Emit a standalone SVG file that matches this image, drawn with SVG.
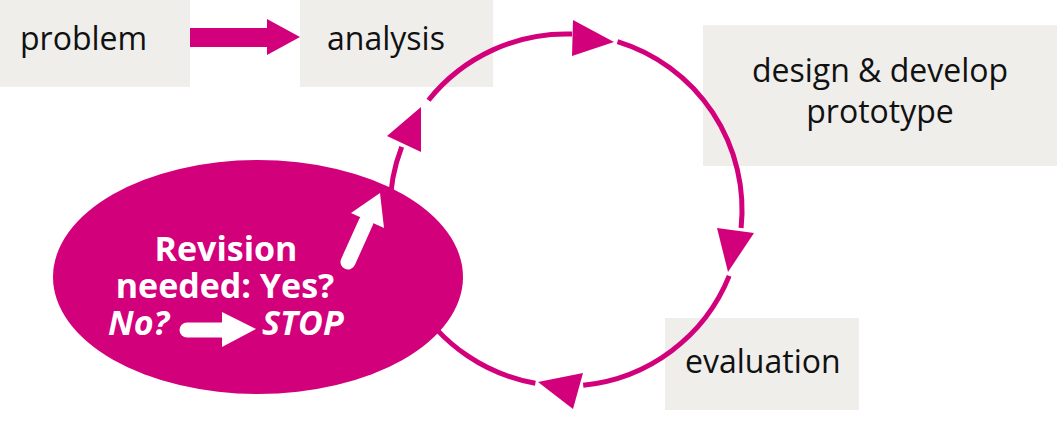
<svg xmlns="http://www.w3.org/2000/svg" width="1057" height="426" viewBox="0 0 1057 426">
  <style>
    .box { fill: #efeeeb; }
    .lbl { font-family: "Open Sans", "Noto Sans", sans-serif; font-size: 32px; fill: #111; }
    .ring { fill: none; stroke: #d3007b; stroke-width: 5; }
    .head { fill: #d3007b; }
    .wt { font-family: "Open Sans", "Noto Sans", sans-serif; font-size: 34px; font-weight: bold; fill: #fff; }
    .wi { font-style: italic; }
    .wshaft { stroke: #fff; stroke-width: 15; stroke-linecap: round; fill: none; }
  </style>
  <rect width="1057" height="426" fill="#fff"/>

  <g id="node-problem">
    <rect class="box" x="0" y="0" width="190" height="87"/>
    <text class="lbl" x="20" y="50">problem</text>
  </g>
  <g id="node-analysis">
    <rect class="box" x="300" y="0" width="193" height="87"/>
    <text class="lbl" x="327" y="50">analysis</text>
  </g>
  <g id="node-design">
    <rect class="box" x="703" y="25" width="354" height="141"/>
    <text class="lbl" x="880" y="82" text-anchor="middle">design &amp; develop</text>
    <text class="lbl" x="880" y="123" text-anchor="middle">prototype</text>
  </g>
  <g id="node-evaluation">
    <rect class="box" x="665" y="318" width="194" height="92"/>
    <text class="lbl" x="685" y="373">evaluation</text>
  </g>

  <g id="connectors">
    <rect class="head" x="190" y="28" width="80" height="19"/>
    <polygon class="head" points="267,19 300,37 267,55"/>
    <path class="ring" d="M428.5,100.2 A176,176 0 0 1 572.1,34.1"/>
    <path class="ring" d="M617.5,41.7 A176,176 0 0 1 741.1,228.1"/>
    <path class="ring" d="M729.2,275.9 A176,176 0 0 1 583.2,385.2"/>
    <path class="ring" d="M535.4,383.3 A176,176 0 0 1 401.7,146.9"/>
    <polygon class="head" points="573,20 572,56 614,42"/>
    <polygon class="head" points="717,228 754,233 728,272"/>
    <polygon class="head" points="583,373 573,409 538,382"/>
    <polygon class="head" points="421,107 387,136 421,152"/>
  </g>

  <g id="node-revision">
    <ellipse cx="258" cy="277" rx="205" ry="117" fill="#d3007b"/>
    <text class="wt" x="226" y="261" text-anchor="middle">Revision</text>
    <text class="wt" x="225" y="298" text-anchor="middle">needed: Yes?</text>
    <text class="wt wi" x="108" y="335">No?</text>
    <text class="wt wi" x="262" y="335">STOP</text>
    <line class="wshaft" x1="348" y1="262" x2="366" y2="222"/>
    <polygon fill="#fff" points="351,213 380,193 384,228"/>
    <line class="wshaft" x1="187" y1="330" x2="225" y2="330"/>
    <polygon fill="#fff" points="222,312 256,329 222,347"/>
  </g>
</svg>
